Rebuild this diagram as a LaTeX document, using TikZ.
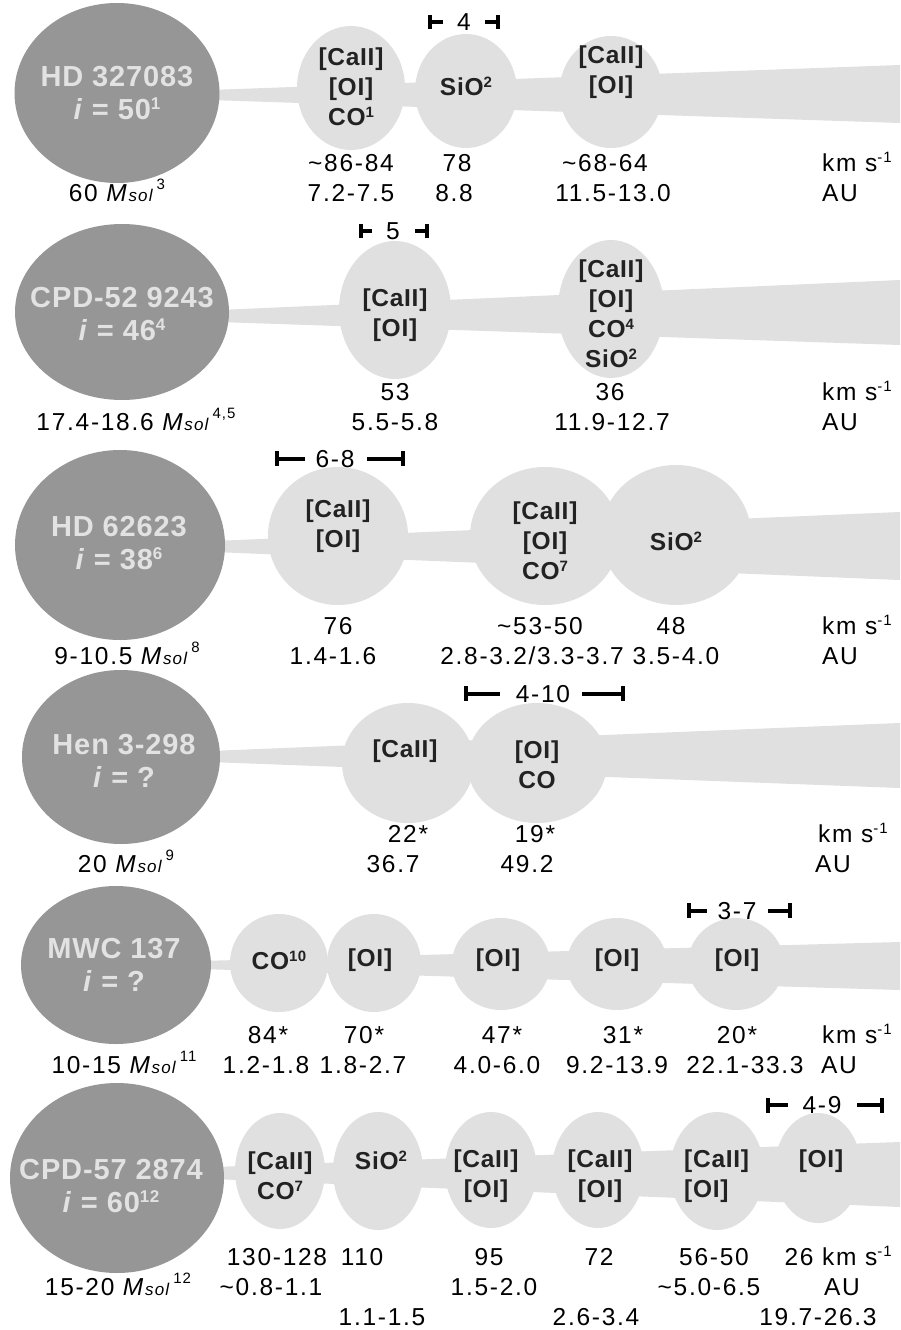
\documentclass[tikz,border=0pt]{standalone}
\usepackage{fontspec}
\setmainfont{Liberation Sans}[LetterSpace=7, BoldFeatures={LetterSpace=3}, BoldItalicFeatures={LetterSpace=3}]
\usetikzlibrary{shapes.geometric}
\definecolor{starfill}{RGB}{150,150,150}
\definecolor{startext}{RGB}{226,226,226}
\definecolor{blobfill}{RGB}{224,224,224}
\definecolor{blobtext}{RGB}{34,34,34}
\newcommand{\sps}[2][14]{\raisebox{0.33em}{\fontsize{#1}{#1}\selectfont #2}}
\newcommand{\msol}[1]{\textit{M}{\fontsize{17}{17}\selectfont\itshape sol}\,\raisebox{0.45em}{\fontsize{15}{15}\selectfont #1}}
\newcommand{\nl}{\\\relax}
\begin{document}
\begin{tikzpicture}[x=1pt,y=-1pt,
  star/.style={ellipse, fill=starfill, inner sep=0pt},
  blob/.style={ellipse, fill=blobfill, inner sep=0pt},
  band/.style={fill=blobfill},
  starlbl/.style={text=startext, font=\fontsize{29}{33}\selectfont\bfseries, align=center, inner sep=0pt},
  bloblbl/.style={text=blobtext, font=\fontsize{24.5}{30}\selectfont\bfseries, align=center, inner sep=0pt},
  val/.style={font=\fontsize{24.5}{30}\selectfont, inner sep=0pt, anchor=base},
  valw/.style={val, anchor=base west},
  sbar/.style={line width=4pt, black}]
\useasboundingbox (0,0) rectangle (900,1330);
\fill[white] (0,0) rectangle (900,1330);

% ---------------- Row 1 : HD 327083
\fill[band] (210,90) -- (900,65) -- (900,123) -- (210,100) -- cycle;
\node[star, minimum width=205, minimum height=180] (s1) at (117,93) {};
\node[blob, minimum width=108, minimum height=124] (b11) at (351,88) {};
\node[blob, minimum width=102, minimum height=114] (b12) at (466,91) {};
\node[blob, minimum width=103, minimum height=112] (b13) at (611,92) {};
\node[starlbl] (s1t) at (117,93) {HD 327083\nl\textit{i} = 50\sps[17]{1}};
\node[bloblbl] (b11t) at (351,87) {[CaII]\nl[OI]\nl CO\sps[15]{1}};
\node[bloblbl] (b12t) at (466,86) {SiO\sps[15]{2}};
\node[bloblbl] (b13t) at (611,72) {[CaII]\nl[OI]};
\node[val] (m1) at (117,201) {60 \msol{3}};
\node[val] (v11) at (351,171) {\textasciitilde86-84};
\node[val] (d11) at (351,201) {7.2-7.5};
\node[val] (v12) at (457,171) {78};
\node[val] (d12) at (454,201) {8.8};
\node[val] (v13) at (605,171) {\textasciitilde68-64};
\node[val] (d13) at (613,201) {11.5-13.0};
\node[valw] (k1) at (822,171) {km s\sps[15]{-1}};
\node[valw] (a1) at (822,201) {AU};
\draw[sbar] (430,15) -- (430,29) (430,22) -- (443,22) (485,22) -- (498,22) (498,15) -- (498,29);
\node[val] (sb1) at (464,30.5) {4};

% ---------------- Row 2 : CPD-52 9243
\fill[band] (219,310) -- (900,280) -- (900,345) -- (219,322) -- cycle;
\node[star, minimum width=214, minimum height=176] (s2) at (122,312) {};
\node[blob, minimum width=112, minimum height=138] (b21) at (395,310) {};
\node[blob, minimum width=106, minimum height=138] (b22) at (611,309) {};
\node[starlbl] (s2t) at (122,314) {CPD-52 9243\nl\textit{i} = 46\sps[17]{4}};
\node[bloblbl] (b21t) at (395,315) {[CaII]\nl[OI]};
\node[bloblbl] (b22t) at (611,314) {[CaII]\nl[OI]\nl CO\sps[15]{4}\nl SiO\sps[15]{2}};
\node[val] (m2) at (136,430) {17.4-18.6 \msol{4,5}};
\node[val] (v21) at (395,400) {53};
\node[val] (d21) at (395,430) {5.5-5.8};
\node[val] (v22) at (610,400) {36};
\node[val] (d22) at (612,430) {11.9-12.7};
\node[valw] (k2) at (822,400) {km s\sps[15]{-1}};
\node[valw] (a2) at (822,430) {AU};
\draw[sbar] (361,224) -- (361,238) (361,231) -- (372,231) (415,231) -- (427,231) (427,224) -- (427,238);
\node[val] (sb2) at (393,239.5) {5};

% ---------------- Row 3 : HD 62623
\fill[band] (214,541) -- (900,512) -- (900,580) -- (214,552) -- cycle;
\node[star, minimum width=210, minimum height=190] (s3) at (120,545) {};
\node[blob, minimum width=140, minimum height=138] (b31) at (338,536) {};
\node[blob, minimum width=150, minimum height=138] (b32) at (545,536) {};
\node[blob, minimum width=150, minimum height=140] (b33) at (676,535) {};
\node[starlbl] (s3t) at (119,543) {HD 62623\nl\textit{i} = 38\sps[17]{6}};
\node[bloblbl] (b31t) at (338,526) {[CaII]\nl[OI]};
\node[bloblbl] (b32t) at (545,541) {[CaII]\nl[OI]\nl CO\sps[15]{7}};
\node[bloblbl] (b33t) at (676,541) {SiO\sps[15]{2}};
\node[val] (m3) at (127,664) {9-10.5 \msol{8}};
\node[val] (v31) at (338,634) {76};
\node[val] (d31) at (333,664) {1.4-1.6};
\node[val] (v32) at (540,634) {\textasciitilde53-50};
\node[val] (d32) at (532,664) {2.8-3.2/3.3-3.7};
\node[val] (v33) at (671,634) {48};
\node[val] (d33) at (676,664) {3.5-4.0};
\node[valw] (k3) at (822,634) {km s\sps[15]{-1}};
\node[valw] (a3) at (822,664) {AU};
\draw[sbar] (277,451) -- (277,466) (277,459) -- (305,459) (367,459) -- (403,459) (403,451) -- (403,466);
\node[val] (sb3) at (335,467.5) {6-8};

% ---------------- Row 4 : Hen 3-298
\fill[band] (210,751) -- (900,723) -- (900,788) -- (210,762) -- cycle;
\node[star, minimum width=198, minimum height=174] (s4) at (121,757) {};
\node[blob, minimum width=132, minimum height=120] (b41) at (408,763) {};
\node[blob, minimum width=140, minimum height=120] (b42) at (537,763) {};
\node[starlbl] (s4t) at (124,761) {Hen 3-298\nl\textit{i} = ?};
\node[bloblbl] (b41t) at (405,751) {[CaII]};
\node[bloblbl] (b42t) at (537,765) {[OI]\nl CO};
\node[val] (m4) at (126,872) {20 \msol{9}};
\node[val] (v41) at (408,842) {22*};
\node[val] (d41) at (393,872) {36.7};
\node[val] (v42) at (535,842) {19*};
\node[val] (d42) at (527,872) {49.2};
\node[valw] (k4) at (818,842) {km s\sps[15]{-1}};
\node[valw] (a4) at (815,872) {AU};
\draw[sbar] (466,686) -- (466,701) (466,694) -- (500,694) (582,694) -- (623,694) (623,686) -- (623,701);
\node[val] (sb4) at (543,702.5) {4-10};

% ---------------- Row 5 : MWC 137
\fill[band] (200,961) -- (900,942) -- (900,990) -- (200,969) -- cycle;
\node[star, minimum width=190, minimum height=158] (s5) at (116,965) {};
\node[blob, minimum width=98, minimum height=98] (b51) at (279,963) {};
\node[blob, minimum width=94, minimum height=98] (b52) at (374,963) {};
\node[blob, minimum width=98, minimum height=92] (b53) at (501,964) {};
\node[blob, minimum width=100, minimum height=92] (b54) at (617,964) {};
\node[blob, minimum width=96, minimum height=92] (b55) at (736,964) {};
\node[starlbl] (s5t) at (114,965) {MWC 137\nl\textit{i} = ?};
\node[bloblbl] (b51t) at (279,960) {CO\sps[15]{10}};
\node[bloblbl] (b52t) at (370,960) {[OI]};
\node[bloblbl] (b53t) at (498,960) {[OI]};
\node[bloblbl] (b54t) at (617,960) {[OI]};
\node[bloblbl] (b55t) at (737,960) {[OI]};
\node[val] (m5) at (124,1073) {10-15 \msol{11}};
\node[val] (v51) at (268,1043) {84*};
\node[val] (d51) at (266,1073) {1.2-1.8};
\node[val] (v52) at (364,1043) {70*};
\node[val] (d52) at (363,1073) {1.8-2.7};
\node[val] (v53) at (502,1043) {47*};
\node[val] (d53) at (497,1073) {4.0-6.0};
\node[val] (v54) at (623,1043) {31*};
\node[val] (d54) at (617,1073) {9.2-13.9};
\node[val] (v55) at (737,1043) {20*};
\node[val] (d55) at (745,1073) {22.1-33.3};
\node[valw] (k5) at (822,1043) {km s\sps[15]{-1}};
\node[valw] (a5) at (821,1073) {AU};
\draw[sbar] (689,903) -- (689,918) (689,911) -- (707,911) (768,911) -- (790,911) (790,903) -- (790,918);
\node[val] (sb5) at (737,919.5) {3-7};

% ---------------- Row 6 : CPD-57 2874
\fill[band] (213,1167) -- (900,1142) -- (900,1207) -- (213,1179) -- cycle;
\node[star, minimum width=214, minimum height=190] (s6) at (117,1178) {};
\node[blob, minimum width=90, minimum height=116] (b61) at (280,1171) {};
\node[blob, minimum width=90, minimum height=118] (b62) at (378,1171) {};
\node[blob, minimum width=92, minimum height=116] (b63) at (491,1170) {};
\node[blob, minimum width=92, minimum height=116] (b64) at (598,1170) {};
\node[blob, minimum width=94, minimum height=118] (b65) at (717,1171) {};
\node[blob, minimum width=86, minimum height=110] (b66) at (818,1168) {};
\node[starlbl] (s6t) at (111,1186) {CPD-57 2874\nl\textit{i} = 60\sps[17]{12}};
\node[bloblbl] (b61t) at (280,1176) {[CaII]\nl CO\sps[15]{7}};
\node[bloblbl] (b62t) at (381,1160) {SiO\sps[15]{2}};
\node[bloblbl] (b63t) at (486,1176) {[CaII]\nl[OI]};
\node[bloblbl] (b64t) at (600,1176) {[CaII]\nl[OI]};
\node[bloblbl, align=left, anchor=west] (b65t) at (684,1176) {[CaII]\nl[OI]};
\node[bloblbl] (b66t) at (821,1161) {[OI]};
\node[val] (m6) at (118,1295) {15-20 \msol{12}};
\node[val] (v61) at (277,1265) {130-128};
\node[val] (d61) at (271,1295) {\textasciitilde0.8-1.1};
\node[val] (v62) at (362,1265) {110};
\node[val] (d62) at (382,1325) {1.1-1.5};
\node[val] (v63) at (489,1265) {95};
\node[val] (d63) at (494,1295) {1.5-2.0};
\node[val] (v64) at (599,1265) {72};
\node[val] (d64) at (596,1325) {2.6-3.4};
\node[val] (v65) at (714,1265) {56-50};
\node[val] (d65) at (709,1295) {\textasciitilde5.0-6.5};
\node[val] (v66) at (799,1265) {26};
\node[valw] (k6) at (822,1265) {km s\sps[15]{-1}};
\node[val] (a6) at (842,1295) {AU};
\node[val] (d66) at (818,1325) {19.7-26.3};
\draw[sbar] (768,1098) -- (768,1113) (768,1105) -- (788,1105) (857,1105) -- (882,1105) (882,1098) -- (882,1113);
\node[val] (sb6) at (822,1113.5) {4-9};
\end{tikzpicture}
\end{document}
